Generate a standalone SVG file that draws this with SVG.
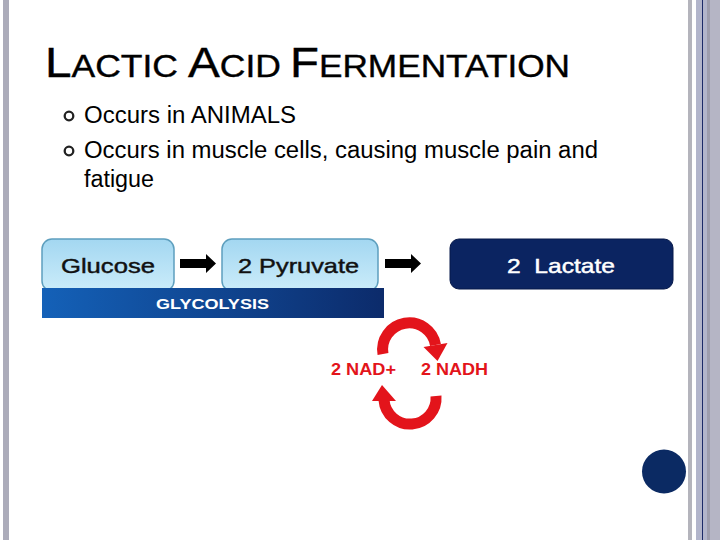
<svg xmlns="http://www.w3.org/2000/svg" width="720" height="540" viewBox="0 0 720 540">
<defs>
<style>
.t{font-family:"Liberation Sans",Arial,sans-serif;}
.title{fill:#000;stroke:#000;stroke-width:0.4;}
.bul{font-size:23px;fill:#000;}
.box{fill:url(#lb);stroke:#5e9fbe;stroke-width:1.5;}
.btxt{font-size:21px;fill:#111;stroke:#111;stroke-width:0.45;}
.red{fill:#e3141b;font-weight:bold;font-size:16px;}
.arc{fill:none;stroke:#e3141b;stroke-width:11;}
</style>
<linearGradient id="lb" x1="0" y1="0" x2="0" y2="1">
<stop offset="0" stop-color="#a3d7f1"/>
<stop offset="1" stop-color="#cbecfa"/>
</linearGradient>
<linearGradient id="bar" x1="0" y1="0" x2="1" y2="0">
<stop offset="0" stop-color="#1461b8"/>
<stop offset="1" stop-color="#0c2b6b"/>
</linearGradient>
<polygon id="blk" points="0,-4.5 26,-4.5 26,-9.5 36,0 26,9.5 26,4.5 0,4.5" fill="#000"/>
</defs>
<rect width="720" height="540" fill="#fff"/>
<!-- borders -->
<rect x="3" y="0" width="6" height="540" fill="#acacba"/>
<rect x="688" y="0" width="4" height="540" fill="#b4b4bc"/>
<rect x="696" y="0" width="24" height="540" fill="#b2b5cb"/>
<rect x="702" y="0" width="1" height="540" fill="#1b2a68"/>
<rect x="707" y="0" width="3" height="540" fill="#9d9dad"/>
<rect x="710" y="0" width="10" height="540" fill="#b5b5c5"/>
<!-- title -->
<g id="title" class="t title">
<text x="45" y="77" textLength="133" lengthAdjust="spacingAndGlyphs"><tspan font-size="43">L</tspan><tspan font-size="32">ACTIC</tspan></text>
<text x="188" y="77" textLength="93" lengthAdjust="spacingAndGlyphs"><tspan font-size="43">A</tspan><tspan font-size="32">CID</tspan></text>
<text x="290" y="77" textLength="280" lengthAdjust="spacingAndGlyphs"><tspan font-size="43">F</tspan><tspan font-size="32">ERMENTATION</tspan></text>
</g>
<!-- bullets -->
<g id="bullets" class="t bul">
<circle cx="69" cy="116" r="4.3" fill="#fff" stroke="#222" stroke-width="2.3"/>
<circle cx="69" cy="151" r="4.3" fill="#fff" stroke="#222" stroke-width="2.3"/>
<text x="84" y="123" textLength="212" lengthAdjust="spacingAndGlyphs">Occurs in ANIMALS</text>
<text x="84" y="158" textLength="514" lengthAdjust="spacingAndGlyphs">Occurs in muscle cells, causing muscle pain and</text>
<text x="84" y="187" textLength="70" lengthAdjust="spacingAndGlyphs">fatigue</text>
</g>
<!-- nodes -->
<g id="glucose">
<rect class="box" x="42" y="239" width="132" height="52" rx="10"/>
<text class="t btxt" x="61" y="273" textLength="94" lengthAdjust="spacingAndGlyphs">Glucose</text>
</g>
<g id="pyruvate">
<rect class="box" x="222" y="239" width="156" height="52" rx="10"/>
<text class="t btxt" x="238" y="273" textLength="121" lengthAdjust="spacingAndGlyphs">2 Pyruvate</text>
</g>
<g id="glycolysis">
<rect x="42" y="288" width="342" height="30" fill="url(#bar)"/>
<text class="t" x="156" y="309" font-size="15" font-weight="bold" fill="#fff" textLength="113" lengthAdjust="spacingAndGlyphs">GLYCOLYSIS</text>
</g>
<g id="lactate">
<rect x="450" y="239" width="223" height="50" rx="9" fill="#0b2461" stroke="#07194a" stroke-width="1"/>
<text class="t" x="507" y="273" font-size="21" fill="#fff" stroke="#fff" stroke-width="0.45" textLength="108" lengthAdjust="spacingAndGlyphs" xml:space="preserve">2  Lactate</text>
</g>
<g id="nad">
<text class="t red" x="331" y="375" textLength="65" lengthAdjust="spacingAndGlyphs">2 NAD+</text>
</g>
<g id="nadh">
<text class="t red" x="421" y="375" textLength="67" lengthAdjust="spacingAndGlyphs">2 NADH</text>
</g>
<g id="dot">
<circle cx="664" cy="471.5" r="22" fill="#0b2a63"/>
</g>
<!-- connectors -->
<g id="connectors">
<use href="#blk" x="180" y="263.5"/>
<use href="#blk" x="385" y="263.5"/>
<path class="arc" d="M383 354 A26.5 26.5 0 1 1 435.5 345"/>
<polygon points="447.5,343 423.5,347 437.5,361" fill="#e3141b"/>
<path class="arc" d="M436 396 A26 26 0 1 1 384 400"/>
<polygon points="372,401 396,401 382,385" fill="#e3141b"/>
</g>
</svg>
